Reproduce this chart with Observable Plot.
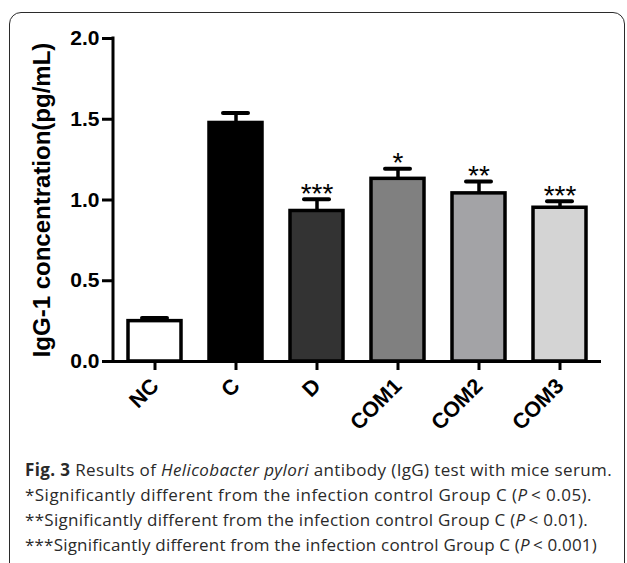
<!DOCTYPE html>
<html><head><meta charset="utf-8">
<script src="https://cdn.jsdelivr.net/npm/d3@7"></script>
<script src="https://cdn.jsdelivr.net/npm/@observablehq/plot@0.6"></script>
<style>
html,body{margin:0;padding:0;background:#fff;width:627px;height:563px;overflow:hidden;}
#wrap{position:relative;width:627px;height:563px;overflow:hidden;}
#frame{position:absolute;left:9px;top:12px;width:616px;height:640px;border:1.5px solid #2b2b2b;border-radius:12px;box-sizing:border-box;}
#chart{position:absolute;left:0;top:0;}
#caption{position:absolute;left:25px;top:457px;font-family:"Open Sans",sans-serif;font-size:17px;line-height:25px;color:#2a2a2a;white-space:nowrap;}
#caption .ln{display:block;}
#caption .ln span.inner{display:inline-block;}
</style></head><body>
<div id="wrap"><div id="frame"></div><div id="chart"></div><div id="caption"></div></div>
<script>
const groups = ["NC", "C", "D", "COM1", "COM2", "COM3"];
const means = [0.25, 1.477, 0.932, 1.131, 1.041, 0.952];
const errors = [0.02, 0.062, 0.072, 0.063, 0.074, 0.04];
const stars = ["", "", "***", "*", "**", "***"];
const fills = ["#ffffff", "#000000", "#333333", "#808080", "#a3a3a6", "#d4d4d4"];
const yTicks = [0, 0.5, 1.0, 1.5, 2.0];
const yDomain = [0, 2];
const yLabel = "IgG-1 concentration(pg/mL)";
const captionLines = [
  [["Fig. 3", "b"], [" Results of ", ""], ["Helicobacter pylori", "i"], [" antibody (IgG) test with mice serum.", ""]],
  [["*Significantly different from the infection control Group C (", ""], ["P", "i"], ["\u2009< 0.05).", ""]],
  [["**Significantly different from the infection control Group C (", ""], ["P", "i"], ["\u2009< 0.01).", ""]],
  [["***Significantly different from the infection control Group C (", ""], ["P", "i"], ["\u2009< 0.001)", ""]]
];
const captionTargetWidths = [587, 567, 563, 572];

const data = groups.map((g, i) => ({group: g, mean: means[i], err: errors[i], top: means[i] + errors[i], star: stars[i]}));

const yAxisLine = (index, scales, values, dims) => {
  const l = document.createElementNS("http://www.w3.org/2000/svg", "line");
  const x = dims.marginLeft;
  l.setAttribute("x1", x); l.setAttribute("x2", x);
  l.setAttribute("y1", scales.y(yDomain[1]) - 1.5); l.setAttribute("y2", scales.y(0) + 1.5);
  l.setAttribute("stroke", "#000"); l.setAttribute("stroke-width", 3);
  return l;
};

const chart = Plot.plot({
  width: 627, height: 455,
  marginTop: 38, marginBottom: 94, marginLeft: 113, marginRight: 26,
  style: {fontFamily: "'Liberation Sans', Arial, sans-serif", fontWeight: "bold", fontSize: "21px", color: "#000", background: "transparent", overflow: "visible"},
  x: {domain: groups, paddingInner: 0.34, paddingOuter: 0.17, label: null},
  y: {domain: yDomain, label: yLabel},
  color: {domain: groups, range: fills},
  marks: [
    Plot.ruleX(data, {x: "group", y1: "mean", y2: "top", stroke: "#000", strokeWidth: 3.5}),
    Plot.tickY(data, {x: "group", y: "top", stroke: "#000", strokeWidth: 4, strokeLinecap: "round", insetLeft: 14, insetRight: 14}),
    Plot.barY(data, {x: "group", y: "mean", fill: "group", stroke: "#000", strokeWidth: 3.5}),
    Plot.text(data, {x: "group", y: "top", text: "star", dy: -5.5, lineAnchor: "middle", fontSize: 28, fontWeight: "normal", fontFamily: "'Liberation Sans', Arial, sans-serif", fill: "#000"}),
    Plot.ruleY([0], {stroke: "#000", strokeWidth: 3, insetLeft: -1.5}),
    yAxisLine,
    Plot.axisY({ticks: yTicks, tickFormat: d3.format(".1f"), tickSize: 11, tickPadding: 3, strokeWidth: 3, label: null, fontSize: 21, fontWeight: "bold"}),
    Plot.axisY({ticks: [], label: yLabel, labelAnchor: "center", labelOffset: 81, labelArrow: "none", fontSize: 24, fontWeight: "bold"}),
    Plot.axisX({tickSize: 9, tickRotate: -45, tickPadding: 12, strokeWidth: 3, label: null, fontSize: 21.5, fontWeight: "bold"})
  ]
});
document.getElementById("chart").appendChild(chart);

const cap = document.getElementById("caption");
captionLines.forEach((segs, i) => {
  const ln = document.createElement("div");
  ln.className = "ln";
  const inner = document.createElement("span");
  inner.className = "inner";
  segs.forEach(([t, s]) => {
    const sp = document.createElement("span");
    sp.textContent = t;
    if (s === "b") sp.style.fontWeight = "700";
    if (s === "i") sp.style.fontStyle = "italic";
    inner.appendChild(sp);
  });
  ln.appendChild(inner);
  cap.appendChild(ln);
  const w = inner.getBoundingClientRect().width;
  const n = inner.textContent.length;
  inner.style.letterSpacing = ((captionTargetWidths[i] - w) / n) + "px";
});
</script>
</body></html>
